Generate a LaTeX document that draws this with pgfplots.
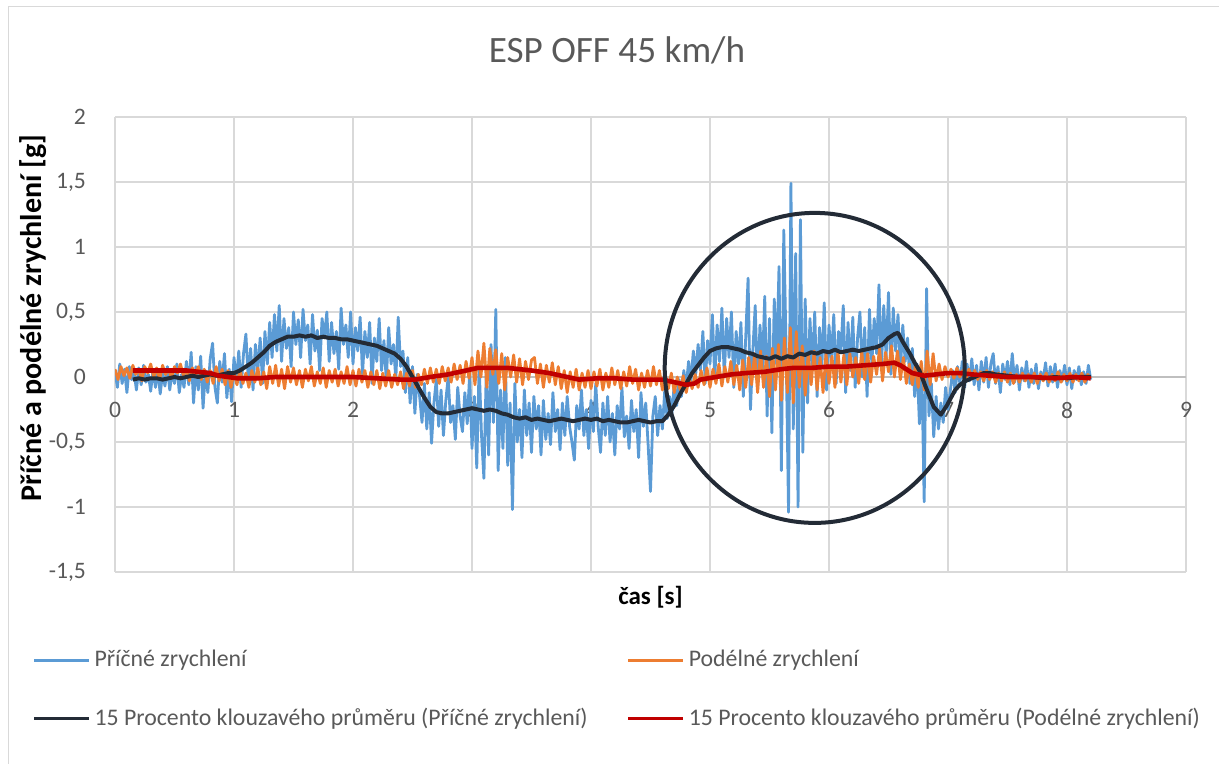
\documentclass[border=0pt]{standalone}
\usepackage{pgfplots}
\pgfplotsset{compat=1.18}
\usepackage{fontspec}
\setmainfont{Carlito}
\definecolor{txtgray}{HTML}{595959}
\definecolor{gridgray}{HTML}{D9D9D9}
\definecolor{zerogray}{HTML}{BFBFBF}
\definecolor{xlblue}{HTML}{5B9BD5}
\definecolor{xlorange}{HTML}{ED7D31}
\definecolor{xldark}{HTML}{232B36}
\definecolor{xlred}{HTML}{C00000}
\begin{document}
\begin{tikzpicture}
\useasboundingbox (0,0) rectangle (609.5pt,382pt);
\draw[gridgray, line width=0.8pt] (4.25pt,0pt) -- (4.25pt,378.75pt) -- (609.5pt,378.75pt);
\begin{axis}[
  at={(57.5pt,96pt)}, anchor=south west,
  scale only axis, width=535.5pt, height=227.5pt,
  xmin=0, xmax=9, ymin=-1.5, ymax=2,
  enlargelimits=false,
  axis x line=middle, axis y line=left,
  hide obscured x ticks=false,
  hide obscured y ticks=false,
  x axis line style={draw=zerogray, line width=0.9pt, -},
  y axis line style={draw=none},
  xtick={0,1,...,9},
  ytick={-1.5,-1,-0.5,0,0.5,1,1.5,2},
  grid=major,
  major grid style={draw=gridgray, line width=0.8pt},
  major tick length=0pt,
  tick style={draw=none},
  /pgf/number format/use comma,
  /pgf/number format/assume math mode=true,
  ticklabel style={font=\fontsize{11.8}{13}\selectfont, text=txtgray},
  xticklabel style={yshift=-9pt},
  yticklabel style={xshift=-11pt},
  title={ESP OFF 45 km/h},
  every axis title/.style={at={(axis description cs:0.4687,1)}, yshift=33.5pt, anchor=center, font=\fontsize{18.6}{22}\selectfont, text=txtgray},
  xlabel={čas [s]},
  ylabel={Příčné a podélné zrychlení [g]},
  every axis x label/.style={at={(axis description cs:0.5,0)}, yshift=-12.5pt, anchor=center, font=\fontsize{12.5}{14}\selectfont\bfseries, text=black},
  every axis y label/.style={at={(axis description cs:0,0.558)}, xshift=-41pt, rotate=90, anchor=center, font=\fontsize{15}{17}\selectfont\bfseries, text=black},
  legend columns=2,
  legend cell align=left,
  legend image code/.code={\draw[#1, line width=1.6pt] (0pt,0pt) -- (27.5pt,0pt);},
  legend style={at={(axis description cs:0,0)}, anchor=north west, xshift=-41.5pt, yshift=-37pt,
    draw=none, fill=none, inner sep=0pt, row sep=15pt,
    font=\fontsize{11.9}{13}\selectfont, text=txtgray,
    /tikz/every even column/.append style={column sep=17.5pt}},
]
% Pricne zrychleni
\addplot[xlblue, line width=1.4pt, line join=round] coordinates {
(0.00,0.05) (0.02,-0.08) (0.04,0.10) (0.06,-0.05) (0.08,0.06) (0.10,-0.12) (0.12,0.08) (0.14,-0.02) (0.16,0.04) (0.18,-0.10)
(0.20,0.07) (0.22,-0.06) (0.24,0.09) (0.26,-0.04) (0.28,0.02) (0.30,-0.11) (0.32,0.06) (0.34,-0.08) (0.36,0.05) (0.38,-0.13)
(0.40,0.03) (0.42,-0.07) (0.44,0.08) (0.46,-0.10) (0.48,0.04) (0.50,-0.05) (0.52,0.10) (0.54,-0.12) (0.56,0.02) (0.58,-0.08)
(0.60,0.12) (0.62,-0.06) (0.64,0.19) (0.66,-0.20) (0.68,0.08) (0.70,-0.10) (0.72,0.16) (0.74,-0.24) (0.76,0.05) (0.78,-0.12)
(0.80,0.14) (0.82,0.26) (0.84,-0.08) (0.86,-0.20) (0.88,0.12) (0.90,-0.04) (0.92,0.18) (0.94,-0.16) (0.96,0.06) (0.98,-0.19)
(1.00,0.15) (1.02,-0.05) (1.04,0.20) (1.06,-0.08) (1.08,0.18) (1.10,0.33) (1.12,-0.02) (1.14,0.22) (1.16,-0.10) (1.18,0.25)
(1.20,0.05) (1.22,0.30) (1.24,-0.05) (1.26,0.35) (1.28,0.10) (1.30,0.42) (1.32,0.15) (1.34,0.48) (1.36,0.20) (1.38,0.55)
(1.40,0.12) (1.42,0.45) (1.44,0.22) (1.46,0.38) (1.48,0.08) (1.50,0.50) (1.52,0.25) (1.54,0.44) (1.56,0.15) (1.58,0.52)
(1.60,0.28) (1.62,0.40) (1.64,0.10) (1.66,0.48) (1.68,0.20) (1.70,0.36) (1.72,0.05) (1.74,0.45) (1.76,0.30) (1.78,0.50)
(1.80,0.12) (1.82,0.42) (1.84,0.18) (1.86,0.35) (1.88,0.06) (1.90,0.53) (1.92,0.25) (1.94,0.40) (1.96,0.15) (1.98,0.50)
(2.00,0.10) (2.02,0.38) (2.04,0.20) (2.06,0.46) (2.08,0.02) (2.10,0.35) (2.12,0.15) (2.14,0.42) (2.16,-0.05) (2.18,0.30)
(2.20,0.12) (2.22,0.45) (2.24,0.05) (2.26,0.28) (2.28,-0.03) (2.30,0.38) (2.32,0.10) (2.34,0.25) (2.36,-0.02) (2.38,0.46)
(2.40,0.08) (2.42,0.20) (2.44,-0.12) (2.46,0.15) (2.48,-0.20) (2.50,0.08) (2.52,-0.28) (2.54,0.02) (2.56,-0.15) (2.58,-0.35)
(2.60,-0.05) (2.62,-0.40) (2.64,-0.12) (2.66,-0.51) (2.68,-0.20) (2.70,-0.02) (2.72,-0.38) (2.74,-0.10) (2.76,-0.45) (2.78,-0.18)
(2.80,0.00) (2.82,-0.35) (2.84,-0.22) (2.86,-0.48) (2.88,-0.08) (2.90,-0.30) (2.92,-0.42) (2.94,-0.12) (2.96,-0.36) (2.98,0.02)
(3.00,-0.55) (3.02,-0.15) (3.04,-0.70) (3.06,0.10) (3.08,-0.45) (3.10,-0.78) (3.12,0.05) (3.14,-0.60) (3.16,0.25) (3.18,-0.35)
(3.20,0.52) (3.22,-0.72) (3.24,-0.10) (3.26,-0.55) (3.28,0.15) (3.30,-0.68) (3.32,-0.20) (3.34,-1.02) (3.36,-0.05) (3.38,-0.50)
(3.40,-0.25) (3.42,-0.62) (3.44,-0.10) (3.46,-0.45) (3.48,-0.20) (3.50,-0.58) (3.52,-0.15) (3.54,-0.40) (3.56,-0.22) (3.58,-0.60)
(3.60,-0.18) (3.62,-0.48) (3.64,-0.28) (3.66,-0.52) (3.68,-0.12) (3.70,-0.42) (3.72,-0.25) (3.74,-0.56) (3.76,-0.20) (3.78,-0.45)
(3.80,-0.15) (3.82,-0.38) (3.84,-0.50) (3.86,-0.64) (3.88,-0.22) (3.90,-0.40) (3.92,-0.10) (3.94,-0.45) (3.96,-0.25) (3.98,-0.55)
(4.00,-0.18) (4.02,-0.42) (4.04,-0.05) (4.06,-0.38) (4.08,-0.58) (4.10,-0.20) (4.12,-0.45) (4.14,-0.15) (4.16,-0.50) (4.18,-0.28)
(4.20,-0.60) (4.22,-0.22) (4.24,-0.40) (4.26,-0.08) (4.28,-0.46) (4.30,-0.30) (4.32,-0.55) (4.34,-0.18) (4.36,-0.42) (4.38,-0.25)
(4.40,-0.62) (4.42,-0.12) (4.44,-0.38) (4.46,-0.20) (4.48,-0.52) (4.50,-0.88) (4.52,-0.30) (4.54,-0.15) (4.56,-0.45) (4.58,-0.22)
(4.60,-0.40) (4.62,-0.10) (4.64,-0.32) (4.66,-0.15) (4.68,-0.28) (4.70,-0.05) (4.72,-0.22) (4.74,-0.02) (4.76,-0.15) (4.78,0.05)
(4.80,-0.08) (4.82,0.12) (4.84,-0.03) (4.86,0.20) (4.88,0.02) (4.90,0.25) (4.92,0.05) (4.94,0.35) (4.96,-0.05) (4.98,0.28)
(5.00,0.10) (5.02,0.48) (5.04,-0.02) (5.06,0.40) (5.08,0.12) (5.10,0.53) (5.12,0.00) (5.14,0.45) (5.16,0.15) (5.18,0.50)
(5.20,-0.08) (5.22,0.35) (5.24,0.10) (5.26,0.42) (5.28,-0.15) (5.30,0.30) (5.32,0.76) (5.34,-0.25) (5.36,0.20) (5.38,0.55)
(5.40,-0.10) (5.42,0.40) (5.44,0.05) (5.46,0.62) (5.48,-0.30) (5.50,0.45) (5.52,-0.43) (5.54,0.60) (5.56,0.10) (5.58,0.85)
(5.60,-0.72) (5.62,1.13) (5.64,0.20) (5.66,-1.04) (5.68,1.49) (5.70,-0.40) (5.72,0.95) (5.74,-1.00) (5.76,1.21) (5.78,-0.58)
(5.80,0.60) (5.82,-0.20) (5.84,0.45) (5.86,0.05) (5.88,0.50) (5.90,-0.15) (5.92,0.38) (5.94,0.08) (5.96,0.57) (5.98,-0.10)
(6.00,0.40) (6.02,0.12) (6.04,0.48) (6.06,-0.05) (6.08,0.35) (6.10,0.20) (6.12,0.55) (6.14,-0.12) (6.16,0.42) (6.18,0.05)
(6.20,0.46) (6.22,-0.08) (6.24,0.30) (6.26,0.50) (6.28,0.00) (6.30,0.38) (6.32,-0.15) (6.34,0.52) (6.36,0.10) (6.38,0.45)
(6.40,0.18) (6.42,0.71) (6.44,0.05) (6.46,0.55) (6.48,0.15) (6.50,0.65) (6.52,0.02) (6.54,0.53) (6.56,0.20) (6.58,0.48)
(6.60,0.05) (6.62,0.40) (6.64,0.12) (6.66,0.30) (6.68,-0.05) (6.70,0.22) (6.72,-0.15) (6.74,0.10) (6.76,-0.36) (6.78,0.05)
(6.80,-0.96) (6.82,0.68) (6.84,-0.30) (6.86,-0.05) (6.88,-0.46) (6.90,-0.15) (6.92,-0.40) (6.94,-0.20) (6.96,-0.35) (6.98,-0.08)
(7.00,-0.25) (7.02,-0.10) (7.04,0.05) (7.06,-0.12) (7.08,0.08) (7.10,-0.05) (7.12,0.12) (7.14,-0.08) (7.16,0.10) (7.18,-0.03)
(7.20,0.14) (7.22,-0.06) (7.24,0.09) (7.26,-0.10) (7.28,0.12) (7.30,-0.04) (7.32,0.15) (7.34,-0.08) (7.36,0.10) (7.38,0.18)
(7.40,-0.05) (7.42,0.08) (7.44,-0.12) (7.46,0.10) (7.48,-0.02) (7.50,0.12) (7.52,-0.06) (7.54,0.18) (7.56,-0.04) (7.58,0.09)
(7.60,-0.10) (7.62,0.07) (7.64,-0.03) (7.66,0.12) (7.68,-0.08) (7.70,0.06) (7.72,-0.05) (7.74,0.10) (7.76,-0.09) (7.78,0.04)
(7.80,-0.02) (7.82,0.11) (7.84,-0.07) (7.86,0.08) (7.88,-0.04) (7.90,0.10) (7.92,-0.08) (7.94,0.05) (7.96,-0.03) (7.98,0.09)
(8.00,-0.06) (8.02,0.07) (8.04,-0.09) (8.06,0.05) (8.08,-0.02) (8.10,0.08) (8.12,-0.06) (8.14,0.04) (8.16,-0.05) (8.18,0.09)
(8.20,-0.02)
};
\addlegendentry{Příčné zrychlení}
% Podelne zrychleni
\addplot[xlorange, line width=1.4pt, line join=round] coordinates {
(0.000,0.06) (0.025,-0.02) (0.050,0.08) (0.075,0.01) (0.100,0.07) (0.125,-0.01) (0.150,0.09) (0.175,0.02) (0.200,0.06) (0.225,-0.03)
(0.250,0.08) (0.275,0.03) (0.300,0.10) (0.325,0.00) (0.350,0.07) (0.375,-0.02) (0.400,0.09) (0.425,0.02) (0.450,0.06) (0.475,-0.01)
(0.500,0.08) (0.525,0.03) (0.550,0.10) (0.575,0.01) (0.600,0.06) (0.625,-0.03) (0.650,0.07) (0.675,0.00) (0.700,0.08) (0.725,-0.02)
(0.750,0.06) (0.775,-0.04) (0.800,0.05) (0.825,-0.05) (0.850,0.08) (0.875,-0.03) (0.900,0.06) (0.925,-0.06) (0.950,0.05) (0.975,-0.08)
(1.000,0.04) (1.025,-0.06) (1.050,0.06) (1.075,-0.05) (1.100,0.03) (1.125,-0.08) (1.150,0.05) (1.175,-0.04) (1.200,0.07) (1.225,-0.06)
(1.250,0.04) (1.275,-0.09) (1.300,0.08) (1.325,-0.05) (1.350,0.09) (1.375,-0.07) (1.400,0.06) (1.425,-0.09) (1.450,0.08) (1.475,-0.04)
(1.500,0.07) (1.525,-0.06) (1.550,0.05) (1.575,-0.08) (1.600,0.06) (1.625,-0.03) (1.650,0.08) (1.675,-0.07) (1.700,0.04) (1.725,-0.05)
(1.750,0.07) (1.775,-0.08) (1.800,0.05) (1.825,-0.04) (1.850,0.06) (1.875,-0.07) (1.900,0.04) (1.925,-0.05) (1.950,0.08) (1.975,-0.06)
(2.000,0.05) (2.025,-0.07) (2.050,0.06) (2.075,-0.04) (2.100,0.05) (2.125,-0.08) (2.150,0.04) (2.175,-0.06) (2.200,0.05) (2.225,-0.09)
(2.250,0.03) (2.275,-0.07) (2.300,0.05) (2.325,-0.08) (2.350,0.02) (2.375,-0.06) (2.400,0.04) (2.425,-0.09) (2.450,0.03) (2.475,-0.07)
(2.500,0.05) (2.525,-0.08) (2.550,0.02) (2.575,-0.06) (2.600,0.06) (2.625,-0.05) (2.650,0.07) (2.675,-0.04) (2.700,0.06) (2.725,-0.05)
(2.750,0.08) (2.775,-0.03) (2.800,0.07) (2.825,-0.04) (2.850,0.10) (2.875,-0.02) (2.900,0.09) (2.925,-0.05) (2.950,0.12) (2.975,-0.01)
(3.000,0.15) (3.025,-0.06) (3.050,0.20) (3.075,0.00) (3.100,0.26) (3.125,-0.08) (3.150,0.22) (3.175,0.02) (3.200,0.21) (3.225,-0.05)
(3.250,0.18) (3.275,-0.10) (3.300,0.15) (3.325,0.00) (3.350,0.17) (3.375,-0.04) (3.400,0.14) (3.425,-0.06) (3.450,0.12) (3.475,-0.02)
(3.500,0.13) (3.525,0.15) (3.550,-0.05) (3.575,0.10) (3.600,-0.08) (3.625,0.09) (3.650,-0.04) (3.675,0.11) (3.700,-0.06) (3.725,0.08)
(3.750,-0.09) (3.775,0.05) (3.800,-0.12) (3.825,0.04) (3.850,-0.08) (3.875,0.06) (3.900,-0.10) (3.925,0.03) (3.950,-0.08) (3.975,0.05)
(4.000,-0.09) (4.025,0.04) (4.050,-0.07) (4.075,0.06) (4.100,-0.10) (4.125,0.03) (4.150,-0.08) (4.175,0.07) (4.200,-0.06) (4.225,0.05)
(4.250,-0.09) (4.275,0.04) (4.300,-0.07) (4.325,0.08) (4.350,-0.05) (4.375,0.06) (4.400,-0.10) (4.425,0.03) (4.450,-0.08) (4.475,0.05)
(4.500,-0.07) (4.525,0.08) (4.550,-0.06) (4.575,0.05) (4.600,-0.10) (4.625,0.02) (4.650,-0.09) (4.675,0.03) (4.700,-0.12) (4.725,0.00)
(4.750,-0.10) (4.775,0.01) (4.800,-0.12) (4.825,-0.01) (4.850,-0.09) (4.875,0.02) (4.900,-0.08) (4.925,0.05) (4.950,-0.06) (4.975,0.07)
(5.000,-0.08) (5.025,0.06) (5.050,-0.05) (5.075,0.10) (5.100,-0.07) (5.125,0.08) (5.150,-0.04) (5.175,0.12) (5.200,-0.06) (5.225,0.09)
(5.250,-0.10) (5.275,0.13) (5.300,-0.08) (5.325,0.15) (5.350,-0.06) (5.375,0.18) (5.400,-0.12) (5.425,0.20) (5.450,-0.08) (5.475,0.16)
(5.500,-0.15) (5.525,0.22) (5.550,-0.10) (5.575,0.25) (5.600,-0.18) (5.625,0.30) (5.650,-0.12) (5.675,0.38) (5.700,-0.20) (5.725,0.35)
(5.750,-0.08) (5.775,0.24) (5.800,-0.14) (5.825,0.18) (5.850,-0.06) (5.875,0.20) (5.900,-0.10) (5.925,0.15) (5.950,-0.12) (5.975,0.18)
(6.000,-0.05) (6.025,0.16) (6.050,-0.08) (6.075,0.20) (6.100,-0.04) (6.125,0.17) (6.150,-0.06) (6.175,0.18) (6.200,0.00) (6.225,0.15)
(6.250,-0.05) (6.275,0.20) (6.300,-0.02) (6.325,0.18) (6.350,-0.04) (6.375,0.16) (6.400,0.02) (6.425,0.22) (6.450,-0.03) (6.475,0.19)
(6.500,0.04) (6.525,0.24) (6.550,0.00) (6.575,0.20) (6.600,-0.02) (6.625,0.15) (6.650,-0.05) (6.675,0.10) (6.700,-0.06) (6.725,0.08)
(6.750,-0.08) (6.775,0.12) (6.800,-0.10) (6.825,0.20) (6.850,-0.06) (6.875,0.18) (6.900,-0.03) (6.925,0.10) (6.950,-0.02) (6.975,0.08)
(7.000,0.00) (7.025,0.06) (7.050,-0.01) (7.075,0.07) (7.100,0.00) (7.125,0.05) (7.150,-0.02) (7.175,0.06) (7.200,0.00) (7.225,0.05)
(7.250,-0.02) (7.275,0.04) (7.300,-0.03) (7.325,0.05) (7.350,-0.02) (7.375,0.04) (7.400,-0.04) (7.425,0.03) (7.450,-0.03) (7.475,0.04)
(7.500,-0.04) (7.525,0.03) (7.550,-0.05) (7.575,0.02) (7.600,-0.04) (7.625,0.03) (7.650,-0.03) (7.675,0.02) (7.700,-0.04) (7.725,0.03)
(7.750,-0.05) (7.775,0.02) (7.800,-0.03) (7.825,0.03) (7.850,-0.04) (7.875,0.02) (7.900,-0.03) (7.925,0.04) (7.950,-0.04) (7.975,0.02)
(8.000,-0.03) (8.025,0.03) (8.050,-0.04) (8.075,0.02) (8.100,-0.03) (8.125,0.03) (8.150,-0.04) (8.175,0.02) (8.200,-0.01)
};
\addlegendentry{Podélné zrychlení}
% klouzavy prumer (Pricne)
\addplot[xldark, line width=2pt, line join=round] coordinates {
(0.15,-0.02) (0.20,-0.01) (0.25,-0.02) (0.30,-0.01) (0.35,-0.01) (0.40,-0.02) (0.45,-0.01) (0.50,0.00) (0.55,-0.01) (0.60,0.00)
(0.65,0.01) (0.70,0.00) (0.75,0.01) (0.80,0.02) (0.85,0.01) (0.90,0.02) (0.95,0.03) (1.00,0.03) (1.05,0.05) (1.10,0.08)
(1.15,0.11) (1.20,0.15) (1.25,0.19) (1.30,0.24) (1.35,0.27) (1.40,0.29) (1.45,0.31) (1.50,0.31) (1.55,0.32) (1.60,0.31)
(1.65,0.32) (1.70,0.30) (1.75,0.31) (1.80,0.30) (1.85,0.30) (1.90,0.29) (1.95,0.29) (2.00,0.28) (2.05,0.27) (2.10,0.26)
(2.15,0.25) (2.20,0.24) (2.25,0.22) (2.30,0.20) (2.35,0.18) (2.40,0.14) (2.45,0.08) (2.50,0.00) (2.55,-0.08) (2.60,-0.16)
(2.65,-0.23) (2.70,-0.27) (2.75,-0.28) (2.80,-0.28) (2.85,-0.27) (2.90,-0.26) (2.95,-0.25) (3.00,-0.24) (3.05,-0.25) (3.10,-0.26)
(3.15,-0.25) (3.20,-0.26) (3.25,-0.28) (3.30,-0.29) (3.35,-0.31) (3.40,-0.32) (3.45,-0.31) (3.50,-0.33) (3.55,-0.32) (3.60,-0.33)
(3.65,-0.34) (3.70,-0.33) (3.75,-0.32) (3.80,-0.33) (3.85,-0.34) (3.90,-0.33) (3.95,-0.32) (4.00,-0.33) (4.05,-0.32) (4.10,-0.34)
(4.15,-0.33) (4.20,-0.34) (4.25,-0.35) (4.30,-0.35) (4.35,-0.34) (4.40,-0.33) (4.45,-0.34) (4.50,-0.35) (4.55,-0.34) (4.60,-0.34)
(4.65,-0.29) (4.70,-0.22) (4.75,-0.13) (4.80,-0.05) (4.85,0.03) (4.90,0.09) (4.95,0.15) (5.00,0.20) (5.05,0.22) (5.10,0.23)
(5.15,0.23) (5.20,0.22) (5.25,0.21) (5.30,0.19) (5.35,0.18) (5.40,0.16) (5.45,0.15) (5.50,0.14) (5.55,0.16) (5.60,0.14)
(5.65,0.16) (5.70,0.15) (5.75,0.18) (5.80,0.17) (5.85,0.19) (5.90,0.18) (5.95,0.20) (6.00,0.19) (6.05,0.21) (6.10,0.19)
(6.15,0.20) (6.20,0.21) (6.25,0.20) (6.30,0.21) (6.35,0.22) (6.40,0.23) (6.45,0.25) (6.50,0.30) (6.55,0.33) (6.58,0.34)
(6.62,0.27) (6.68,0.18) (6.72,0.11) (6.76,0.05) (6.81,-0.07) (6.85,-0.16) (6.88,-0.23) (6.94,-0.29) (6.99,-0.22) (7.06,-0.10)
(7.10,-0.06) (7.15,-0.03) (7.20,-0.01) (7.25,0.01) (7.30,0.03) (7.35,0.03) (7.40,0.02) (7.50,0.01) (7.60,0.00) (7.70,0.00)
(7.80,-0.01) (7.90,0.00) (8.00,-0.01) (8.10,0.00) (8.20,0.00)
};
\addlegendentry{15 Procento klouzavého průměru (Příčné zrychlení)}
% klouzavy prumer (Podelne)
\addplot[xlred, line width=2.3pt, line join=round] coordinates {
(0.15,0.05) (0.30,0.05) (0.45,0.05) (0.60,0.05) (0.70,0.04) (0.80,0.03) (0.87,0.01) (0.95,0.00) (1.03,-0.01) (1.20,-0.01)
(1.35,0.00) (1.60,0.00) (1.80,0.00) (2.00,0.00) (2.20,-0.01) (2.40,-0.02) (2.52,-0.02) (2.65,0.00) (2.80,0.02) (2.95,0.05)
(3.05,0.07) (3.15,0.07) (3.30,0.07) (3.40,0.06) (3.50,0.05) (3.65,0.03) (3.80,0.00) (3.90,-0.02) (4.05,-0.01) (4.20,-0.01)
(4.35,-0.02) (4.50,-0.02) (4.60,-0.02) (4.70,-0.04) (4.80,-0.06) (4.87,-0.05) (4.92,-0.02) (5.05,0.00) (5.18,0.02) (5.30,0.03)
(5.46,0.04) (5.60,0.06) (5.70,0.07) (5.85,0.07) (6.00,0.08) (6.15,0.08) (6.30,0.09) (6.45,0.10) (6.55,0.11) (6.60,0.09)
(6.65,0.06) (6.70,0.03) (6.80,0.01) (6.90,0.02) (7.00,0.03) (7.10,0.03) (7.20,0.02) (7.35,0.01) (7.50,0.00) (7.70,0.00)
(7.90,-0.01) (8.05,0.00) (8.20,-0.01)
};
\addlegendentry{15 Procento klouzavého průměru (Podélné zrychlení)}
\draw[xldark, line width=2pt] (axis cs:5.88,0.07) ellipse [x radius=75pt, y radius=77.5pt];
\end{axis}
\end{tikzpicture}
\end{document}
